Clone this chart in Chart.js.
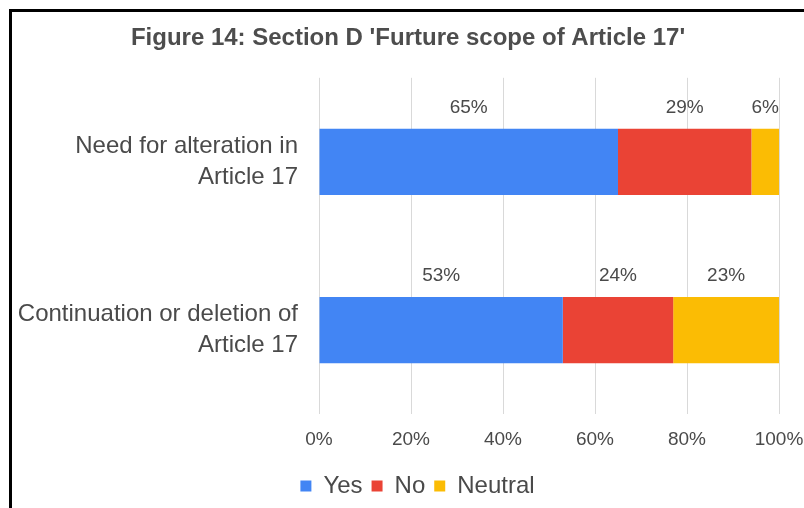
<!DOCTYPE html>
<html>
<head>
<meta charset="utf-8">
<script src="https://cdn.jsdelivr.net/npm/chart.js@4"></script>
<style>
  body { margin: 0; background: #fff; }
  #wrap { position: relative; width: 804px; height: 508px; }
  #frame {
    position: absolute; left: 9px; top: 9px; width: 800px; height: 500px;
    border-left: 3px solid #000; border-top: 3px solid #000;
    pointer-events: none;
  }
</style>
</head>
<body>
<div id="wrap">
  <canvas id="myChart" width="804" height="508"></canvas>
  <div id="frame"></div>
</div>
<script>
const categories = [
  ['Need for alteration in', 'Article 17'],
  ['Continuation or deletion of', 'Article 17']
]
const yesValues = [65, 53]
const noValues = [29, 24]
const neutralValues = [6, 23]
const xTicks = [0, 20, 40, 60, 80, 100]

const textColor = '#4a4a4a'
const fontFamily = "'Liberation Sans', Arial, sans-serif"

// percent labels sitting above each segment
const segmentLabels = {
  id: 'segmentLabels',
  afterDatasetsDraw(chart) {
    const ctx = chart.ctx
    ctx.save()
    ctx.font = `19px ${fontFamily}`
    ctx.fillStyle = textColor
    ctx.textAlign = 'center'
    ctx.textBaseline = 'middle'
    chart.data.datasets.forEach((ds, i) => {
      chart.getDatasetMeta(i).data.forEach((bar, j) => {
        const p = bar.getProps(['x', 'y', 'base', 'height'], true)
        const cx = (p.x + p.base) / 2
        ctx.fillText(ds.data[j] + '%', cx, p.y - p.height / 2 - 21)
      })
    })
    ctx.restore()
  }
}

// legend sits a little right of the canvas centre
const legendShift = {
  id: 'legendShift',
  afterLayout(chart) {
    chart.legend.left += 19
  }
}

const ctx = document.getElementById('myChart')

new Chart(ctx, {
  type: 'bar',
  data: {
    labels: categories,
    datasets: [
      { label: 'Yes', data: yesValues, backgroundColor: '#4285F4' },
      { label: 'No', data: noValues, backgroundColor: '#EA4335' },
      { label: 'Neutral', data: neutralValues, backgroundColor: '#FBBC04' }
    ]
  },
  options: {
    indexAxis: 'y',
    responsive: false,
    animation: false,
    layout: { padding: { left: 12, right: 0, top: 0, bottom: 0 } },
    datasets: { bar: { barPercentage: 1, categoryPercentage: 0.395, borderWidth: 0 } },
    scales: {
      x: {
        stacked: true,
        min: 0,
        max: 100,
        afterBuildTicks: axis => { axis.ticks = xTicks.map(v => ({ value: v })) },
        afterFit: axis => { axis.paddingRight = 25 },
        grid: { color: '#d9d9d9', drawTicks: false },
        border: { display: false },
        ticks: {
          callback: v => v + '%',
          color: textColor,
          font: { family: fontFamily, size: 19 },
          padding: 14
        }
      },
      y: {
        stacked: true,
        grid: { display: false, drawTicks: false },
        border: { display: false },
        afterFit: axis => { axis.width = 307 },
        ticks: {
          color: textColor,
          font: { family: fontFamily, size: 24, lineHeight: 1.3 },
          padding: 21
        }
      }
    },
    plugins: {
      title: {
        display: true,
        text: "Figure 14: Section D 'Furture scope of Article 17'",
        color: '#4d4d4d',
        font: { family: fontFamily, size: 24, weight: 'bold' },
        padding: { top: 24, bottom: 25 }
      },
      legend: {
        position: 'bottom',
        labels: {
          boxWidth: 11,
          boxHeight: 11,
          color: textColor,
          font: { family: fontFamily, size: 24 },
          padding: 9
        }
      },
      tooltip: { enabled: false }
    }
  },
  plugins: [segmentLabels, legendShift]
})
</script>
</body>
</html>
